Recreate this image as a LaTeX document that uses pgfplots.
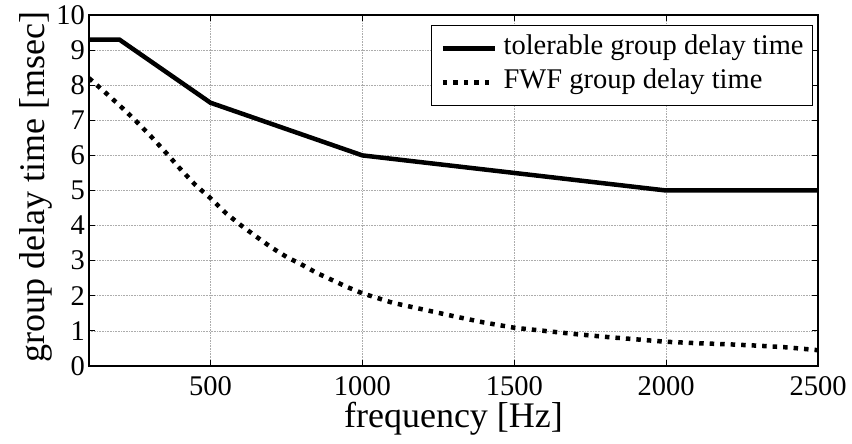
\documentclass[border=0pt]{standalone}
\usepackage{fontspec}
\setmainfont{Liberation Serif}
\usepackage{pgfplots}
\usepackage{pgfplotstable}
\pgfplotsset{compat=1.18}

% tolerable group delay (piecewise linear limit)
\pgfplotstableread{
f d
100 9.3
200 9.3
500 7.5
1000 6.0
2000 5.0
2500 5.0
}\tolerable

% group delay of the FWF filter
\pgfplotstableread{
f d
100 8.2
150 7.82
200 7.43
250 7.02
300 6.58
350 6.11
400 5.62
450 5.16
500 4.78
550 4.36
600 4.01
650 3.69
700 3.38
750 3.11
800 2.89
850 2.65
900 2.45
950 2.25
1000 2.07
1100 1.80
1200 1.61
1300 1.42
1400 1.24
1500 1.09
1600 1.00
1700 0.91
1800 0.83
1900 0.76
2000 0.69
2100 0.65
2200 0.62
2300 0.58
2400 0.53
2500 0.45
}\fwf

\begin{document}
\begin{tikzpicture}
\begin{axis}[
  at={(0pt,0pt)}, anchor=south west,
  scale only axis, width=729pt, height=351pt,
  xmin=100, xmax=2500, ymin=0, ymax=10,
  xtick={500,1000,1500,2000,2500},
  ytick={0,1,...,10},
  grid=major,
  grid style={gray!65, line width=0.6pt, densely dotted},
  axis line style={black, line width=1.4pt},
  tick align=inside,
  major tick length=6pt,
  tick style={black, line width=1pt},
  /pgf/number format/assume math mode=true,
  /pgf/number format/set thousands separator={},
  ticklabel style={font=\fontsize{28.5}{28.5}\selectfont, inner sep=0pt},
  xticklabel style={anchor=north, yshift=-10pt},
  yticklabel style={anchor=east, xshift=-4pt},
  xlabel={frequency [Hz]},
  ylabel={group delay time [msec]},
  label style={font=\fontsize{36}{36}\selectfont, inner sep=0pt},
  xlabel style={at={(axis description cs:0.5,-0.1766)}, anchor=base},
  ylabel style={at={(axis description cs:-0.0617,0.511)}, anchor=base},
  legend style={
    at={(axis description cs:0.9931,0.9715)}, anchor=north east,
    draw=black, line width=0.8pt, fill=white,
    inner xsep=9pt, inner ysep=9.5pt,
    row sep=7pt, column sep=6.5pt,
    font=\fontsize{28.5}{28.5}\selectfont,
    nodes={inner sep=0pt, text height=20pt, text depth=7pt},
    cells={anchor=west},
  },
  legend image code/.code={\draw[#1] (0pt,0pt) -- (52pt,0pt);},
]
\addplot[black, line width=4.5pt] table[x=f, y=d] {\tolerable};
\addlegendentry{tolerable group delay time}
\addplot[black, line width=4.5pt, dash pattern=on 4.5pt off 6pt] table[x=f, y=d] {\fwf};
\addlegendentry{FWF group delay time}
\end{axis}
\pgfresetboundingbox
\path[use as bounding box] (-89pt,-78pt) rectangle (763pt,366pt);
\end{tikzpicture}
\end{document}
